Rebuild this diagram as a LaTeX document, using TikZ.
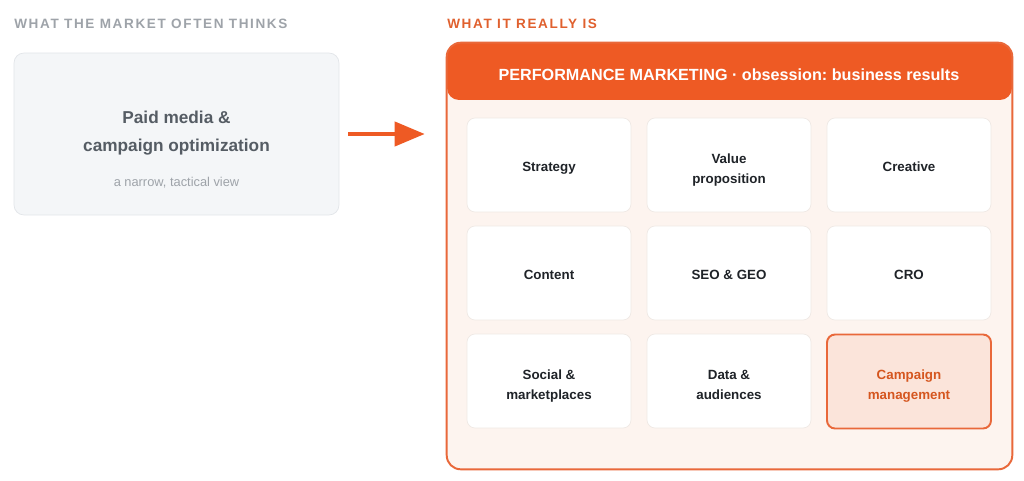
\documentclass[tikz,border=0pt]{standalone}
\usepackage{fontspec}
\setmainfont{Liberation Sans}
\newfontfamily\capsfont[LetterSpace=12]{Liberation Sans}
\usetikzlibrary{arrows.meta,positioning}
\definecolor{pmOrange}{HTML}{EE5A24}
\definecolor{pmEdge}{HTML}{E9683A}
\definecolor{pmTitle}{HTML}{E0602E}
\definecolor{pmCream}{HTML}{FDF4EF}
\definecolor{pmPeach}{HTML}{FBE4DA}
\definecolor{pmRust}{HTML}{D5561F}
\definecolor{pmInk}{HTML}{1F2328}
\definecolor{pmSlate}{HTML}{555C64}
\definecolor{pmGrey}{HTML}{9EA3A9}
\definecolor{pmMist}{HTML}{F4F6F8}
\definecolor{pmLine}{HTML}{E2E5E9}
\definecolor{pmCellLine}{HTML}{EFE9E5}

\tikzset{
  cell/.style={
    draw=pmCellLine,
    fill=white,
    rounded corners=0.16cm,
    minimum width=3.28cm,
    minimum height=1.88cm,
    align=center,
    text height=9.4pt,
    text depth=1.6pt,
    text=pmInk,
    font=\fontsize{7.6}{11.2}\selectfont\bfseries
  },
  twoline/.style={
    text height=22.2pt,
    text depth=1.6pt
  },
  keycell/.style={
    cell,
    draw=pmEdge,
    line width=1.1pt,
    fill=pmPeach,
    text=pmRust
  },
  caption/.style={
    anchor=west,
    inner sep=0pt,
    font=\fontsize{7.7}{9}\selectfont\capsfont\bfseries
  }
}

\begin{document}
\frenchspacing
\begin{tikzpicture}[x=0.02cm,y=-0.02cm]
  \useasboundingbox[fill=white] (0,0) rectangle (1024,480);

  % left side: the narrow view
  \node[caption,text=pmGrey] (mythcap) at (14,24) {WHAT THE MARKET OFTEN THINKS};
  \node[
    draw=pmLine,
    fill=pmMist,
    rounded corners=0.2cm,
    minimum width=6.5cm,
    minimum height=3.24cm
  ] (myth) at (176.5,134) {};
  \node[
    align=center,
    text=pmSlate,
    font=\fontsize{9.8}{15.9}\selectfont\bfseries
  ] (mythtext) at (176.5,133) {Paid media \&\\campaign optimization};
  \node[text=pmGrey,font=\fontsize{7.3}{9}\selectfont]
    (mythnote) at (176.5,183) {a narrow, tactical view};

  % right side: the full picture
  \node[caption,text=pmTitle] (realcap) at (447,24) {WHAT IT REALLY IS};
  \node[
    fill=pmCream,
    rounded corners=0.28cm,
    minimum width=11.3cm,
    minimum height=8.52cm
  ] (reality) at (729.5,256) {};
  \node[
    fill=pmOrange,
    rounded corners=0.24cm,
    minimum width=11.3cm,
    minimum height=1.14cm
  ] (header) at (729.5,71.5) {};
  \node[text=white,font=\fontsize{9.2}{11}\selectfont\bfseries]
    (headline) at (729,74.5) {PERFORMANCE MARKETING · obsession: business results};
  \draw[pmEdge,line width=1.1pt,rounded corners=0.28cm]
    (reality.north west) rectangle (reality.south east);

  \node[cell] (strategy) at (549,165) {Strategy};
  \node[cell,twoline] (value) at (729,165) {Value\\proposition};
  \node[cell] (creative) at (909,165) {Creative};

  \node[cell] (content) at (549,273) {Content};
  \node[cell] (seo) at (729,273) {SEO \& GEO};
  \node[cell] (cro) at (909,273) {CRO};

  \node[cell,twoline] (social) at (549,381) {Social \&\\marketplaces};
  \node[cell,twoline] (data) at (729,381) {Data \&\\audiences};
  \node[keycell,twoline] (campaign) at (909,381.5) {Campaign\\management};

  % arrow between the two views
  \draw[
    pmOrange,
    line width=2.3pt,
    shorten <=0.18cm,
    shorten >=0.44cm,
    -{Triangle[length=0.6cm,width=0.48cm]}
  ] (myth.east) -- (myth.east -| reality.west);
\end{tikzpicture}
\end{document}
